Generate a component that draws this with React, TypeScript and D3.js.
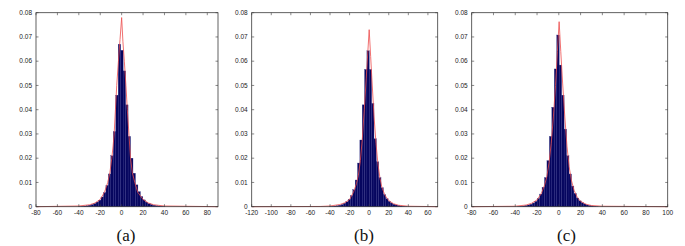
import React, { useEffect, useRef } from 'react';
import * as d3 from 'd3';

// histogram bin left edges + heights
const aBinWidth = 2.3;
const aEdges = [-40, -37.7, -35.4, -33.1, -30.8, -28.5, -26.2, -23.9, -21.6, -19.3, -17, -14.7, -12.4, -10.1, -7.8, -5.5,
  -3.2, -0.9, 1.4, 3.7, 6.0, 8.3, 10.6, 12.9, 15.2, 17.5, 19.8, 22.1, 24.4, 26.7, 29, 31.3, 33.6, 35.9, 38.2];
const aHeights = [0.0001, 0.0002, 0.0003, 0.0004, 0.0006, 0.0009, 0.0013, 0.0019, 0.0027, 0.004, 0.0058, 0.0088, 0.0135, 0.021, 0.031, 0.046,
  0.067, 0.0645, 0.056, 0.042, 0.029, 0.02, 0.0138, 0.009, 0.0062, 0.0042, 0.0028, 0.0019, 0.0013, 0.0009, 0.0006, 0.0004, 0.0003, 0.0002, 0.0001];
const aCurveX = [-80, -40, -30, -25, -20, -16, -13, -11, -9.2, -8, -7, -5.8, -4.6, -3, -1.5, 0, 1.2, 2.5, 4, 5.3, 6.8, 8.3, 10, 12.3, 15, 20, 25, 30, 40, 90];
const aCurveY = [0, 0.0003, 0.0008, 0.0015, 0.003, 0.006, 0.01, 0.014, 0.02, 0.025, 0.03, 0.04, 0.05, 0.06, 0.069, 0.078, 0.068, 0.06, 0.05, 0.04, 0.03, 0.02, 0.014, 0.01, 0.006, 0.003, 0.0015, 0.0008, 0.0003, 0];

const bBinWidth = 2.4;
const bEdges = [-40.7, -38.3, -35.9, -33.5, -31.1, -28.7, -26.3, -23.9, -21.5, -19.1, -16.7, -14.3, -11.9, -9.5, -7.1, -4.7,
  -2.3, 0.1, 2.5, 4.9, 7.3, 9.7, 12.1, 14.5, 16.9, 19.3, 21.7, 24.1, 26.5, 28.9, 31.3, 33.7, 36.1];
const bHeights = [0.0001, 0.0002, 0.0003, 0.0004, 0.0006, 0.0009, 0.0014, 0.002, 0.003, 0.0046, 0.007, 0.011, 0.018, 0.0275, 0.042, 0.0566,
  0.0643, 0.0566, 0.0426, 0.028, 0.0185, 0.012, 0.0078, 0.005, 0.0033, 0.0022, 0.0015, 0.001, 0.0007, 0.0005, 0.0003, 0.0002, 0.0001];
const bCurveX = [-120, -50, -40, -30, -25, -20, -16, -13, -11, -9, -7, -5, -3, -1.5, 0, 1.5, 3, 5, 7, 9, 11, 13, 16, 20, 25, 30, 40, 70];
const bCurveY = [0, 0.0001, 0.0003, 0.0009, 0.0016, 0.003, 0.006, 0.0095, 0.013, 0.019, 0.028, 0.04, 0.053, 0.063, 0.073, 0.062, 0.051, 0.037, 0.026, 0.0175, 0.0118, 0.008, 0.0048, 0.0025, 0.0012, 0.0006, 0.0002, 0];

const cBinWidth = 2.25;
const cEdges = [-37.9, -35.65, -33.4, -31.15, -28.9, -26.65, -24.4, -22.15, -19.9, -17.65, -15.4, -13.15, -10.9, -8.65, -6.4, -4.15,
  -1.9, 0.35, 2.6, 4.85, 7.1, 9.35, 11.6, 13.85, 16.1, 18.35, 20.6, 22.85, 25.1, 27.35, 29.6, 31.85, 34.1];
const cHeights = [0.0001, 0.0002, 0.0003, 0.0005, 0.0007, 0.001, 0.0015, 0.0022, 0.0034, 0.0052, 0.008, 0.012, 0.019, 0.029, 0.041, 0.0568,
  0.0708, 0.0584, 0.046, 0.032, 0.021, 0.0135, 0.0085, 0.0055, 0.0036, 0.0024, 0.0016, 0.0011, 0.0007, 0.0005, 0.0003, 0.0002, 0.0001];
const cCurveX = [-80, -40, -30, -25, -20, -16, -13, -11, -9, -7, -5, -3, -1.3, 0.3, 1.8, 3.5, 5.5, 7.5, 9.5, 11.5, 14, 17, 20, 25, 30, 40, 100];
const cCurveY = [0, 0.0002, 0.0007, 0.0014, 0.0028, 0.0055, 0.009, 0.0125, 0.018, 0.026, 0.037, 0.05, 0.064, 0.0763, 0.064, 0.051, 0.037, 0.025, 0.0165, 0.011, 0.0068, 0.0038, 0.0022, 0.001, 0.0005, 0.0002, 0];

const yTicks = [0, 0.01, 0.02, 0.03, 0.04, 0.05, 0.06, 0.07, 0.08];
const aTicks = [-80, -60, -40, -20, 0, 20, 40, 60, 80];
const bTicks = [-120, -100, -80, -60, -40, -20, 0, 20, 40, 60];
const cTicks = [-80, -60, -40, -20, 0, 20, 40, 60, 80, 100];
const captions = ['(a)', '(b)', '(c)'];

const W = 685;
const H = 246;

export default function App() {
  const ref = useRef<SVGSVGElement | null>(null);

  useEffect(() => {
    const svg = d3.select(ref.current);
    svg.selectAll('*').remove();

    const top = 12.7;
    const bottom = 206.7;
    const panels = [
      { left: 36, right: 218, domain: [-80, 90], ticks: aTicks, edges: aEdges, heights: aHeights, bw: aBinWidth, cx: aCurveX, cy: aCurveY, capX: 126 },
      { left: 251.7, right: 437.7, domain: [-120, 70], ticks: bTicks, edges: bEdges, heights: bHeights, bw: bBinWidth, cx: bCurveX, cy: bCurveY, capX: 364 },
      { left: 471.7, right: 667.7, domain: [-80, 100], ticks: cTicks, edges: cEdges, heights: cHeights, bw: cBinWidth, cx: cCurveX, cy: cCurveY, capX: 566.5 },
    ];

    panels.forEach((p, pi) => {
      const x = d3.scaleLinear().domain(p.domain).range([p.left, p.right]);
      const y = d3.scaleLinear().domain([0, 0.08]).range([bottom, top]);
      const g = svg.append('g');

      // bars: dark navy fill, a faint lighter seam between them
      g.selectAll('rect.bar')
        .data(p.edges.map((e, i) => ({ e, h: p.heights[i] })))
        .join('rect')
        .attr('class', 'bar')
        .attr('x', d => x(d.e))
        .attr('y', d => y(d.h))
        .attr('width', d => x(d.e + p.bw) - x(d.e))
        .attr('height', d => y(0) - y(d.h))
        .attr('fill', '#06065f')
        .attr('stroke', '#2c2c84')
        .attr('stroke-width', 0.3);

      // fitted density
      const line = d3.line<number>()
        .x(d => x(d))
        .y((d, i) => y(p.cy[i]));
      g.append('path')
        .attr('d', line(p.cx))
        .attr('fill', 'none')
        .attr('stroke', '#ec4c4c')
        .attr('stroke-width', 0.8);

      // box
      g.append('rect')
        .attr('x', p.left)
        .attr('y', top)
        .attr('width', p.right - p.left)
        .attr('height', bottom - top)
        .attr('fill', 'none')
        .attr('stroke', '#3a3a3a')
        .attr('stroke-width', 0.8);

      const tl = 2.5;
      // x ticks, inward top and bottom
      p.ticks.forEach(t => {
        g.append('line').attr('x1', x(t)).attr('x2', x(t)).attr('y1', bottom).attr('y2', bottom - tl)
          .attr('stroke', '#3a3a3a').attr('stroke-width', 0.6);
        g.append('line').attr('x1', x(t)).attr('x2', x(t)).attr('y1', top).attr('y2', top + tl)
          .attr('stroke', '#3a3a3a').attr('stroke-width', 0.6);
      });
      g.selectAll('text.xt')
        .data(p.ticks)
        .join('text')
        .attr('class', 'xt')
        .attr('x', d => x(d))
        .attr('y', 214.5)
        .attr('text-anchor', 'middle')
        .attr('font-family', 'Liberation Sans, Arial, sans-serif')
        .attr('font-size', 6.5)
        .attr('fill', '#222')
        .text(d => String(d));

      // y ticks, inward left and right
      yTicks.forEach(t => {
        g.append('line').attr('x1', p.left).attr('x2', p.left + tl).attr('y1', y(t)).attr('y2', y(t))
          .attr('stroke', '#3a3a3a').attr('stroke-width', 0.6);
        g.append('line').attr('x1', p.right).attr('x2', p.right - tl).attr('y1', y(t)).attr('y2', y(t))
          .attr('stroke', '#3a3a3a').attr('stroke-width', 0.6);
      });
      g.selectAll('text.yt')
        .data(yTicks)
        .join('text')
        .attr('class', 'yt')
        .attr('x', p.left - 4)
        .attr('y', d => y(d))
        .attr('dy', '0.35em')
        .attr('text-anchor', 'end')
        .attr('font-family', 'Liberation Sans, Arial, sans-serif')
        .attr('font-size', 6.5)
        .attr('fill', '#222')
        .text(d => (d === 0 ? '0' : d.toFixed(2)));

      g.append('text')
        .attr('x', p.capX)
        .attr('y', 240.5)
        .attr('text-anchor', 'middle')
        .attr('font-family', 'Liberation Serif, DejaVu Serif, serif')
        .attr('font-size', 17)
        .attr('fill', '#111')
        .text(captions[pi]);
    });
  }, []);

  return (
    <svg ref={ref} width={W} height={H} style={{ position: 'absolute', left: 0, top: 0, background: '#fff' }} />
  );
}
